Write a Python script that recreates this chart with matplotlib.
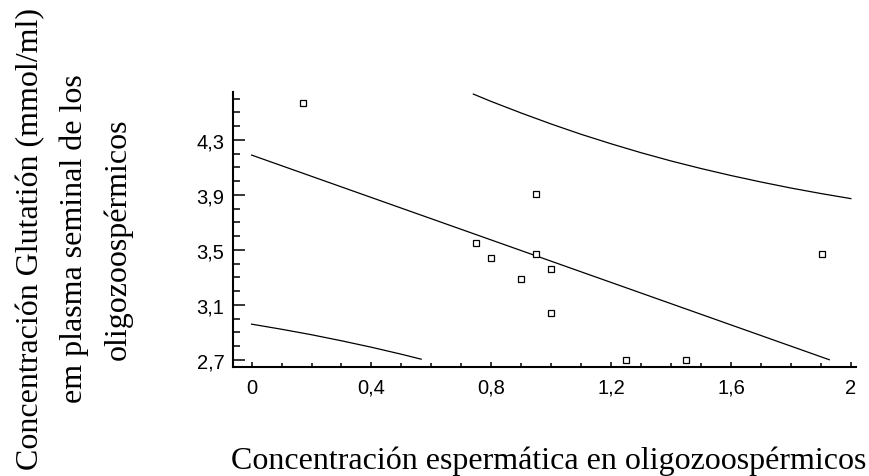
import numpy as np
import matplotlib
matplotlib.use('Agg')
import matplotlib.pyplot as plt
from matplotlib.ticker import FixedLocator

# observed values (sperm concentration vs glutathione)
conc_x = [0.17, 0.75, 0.80, 0.95, 0.95, 1.00, 0.90, 1.00, 1.25, 1.45, 1.905]
glut_y = [4.57, 3.55, 3.44, 3.91, 3.47, 3.36, 3.29, 3.04, 2.70, 2.70, 3.47]

# fitted line, read at its two ends
fit_x = [0.0, 1.928]
fit_y = [4.19, 2.70]

# upper and lower prediction limits
upper_x = [0.74, 0.8, 0.9, 1.0, 1.1, 1.2, 1.3, 1.4, 1.5, 1.6, 1.7, 1.8, 1.9, 2.0]
upper_y = [4.634, 4.580, 4.496, 4.416, 4.341, 4.272, 4.207, 4.147, 4.092, 4.041,
           3.994, 3.950, 3.910, 3.873]
lower_x = [0.0, 0.1, 0.2, 0.3, 0.4, 0.5, 0.566]
lower_y = [2.959, 2.922, 2.882, 2.838, 2.791, 2.740, 2.704]

x_ticks = [0, 0.4, 0.8, 1.2, 1.6, 2.0]
x_labels = ['0', '0,4', '0,8', '1,2', '1,6', '2']
y_ticks = [2.7, 3.1, 3.5, 3.9, 4.3]
y_labels = ['2,7', '3,1', '3,5', '3,9', '4,3']

fig = plt.figure(figsize=(8.69, 4.77), dpi=100)
ax = fig.add_axes([0.2678, 0.2279, 0.7172, 0.5765])

ax.plot(fit_x, fit_y, color='black', lw=0.9)
ax.plot(upper_x, upper_y, color='black', lw=0.9)
ax.plot(lower_x, lower_y, color='black', lw=0.9)
ax.plot(conc_x, glut_y, ls='none', marker='s', ms=3.8, mfc='white',
        mec='black', mew=0.9, clip_on=False, zorder=3)

ax.set_xlim(-0.063, 2.017)
ax.set_ylim(2.645, 4.647)

ax.spines['top'].set_visible(False)
ax.spines['right'].set_visible(False)
ax.spines['left'].set_linewidth(1.5)
ax.spines['bottom'].set_linewidth(1.5)

ax.xaxis.set_major_locator(FixedLocator(x_ticks))
ax.xaxis.set_minor_locator(FixedLocator(np.arange(0, 2.01, 0.1)))
ax.yaxis.set_major_locator(FixedLocator(y_ticks))
ax.yaxis.set_minor_locator(FixedLocator(np.arange(2.7, 4.65, 0.1)))
ax.set_xticklabels(x_labels, fontfamily='Liberation Sans', fontsize=14.5)
ax.set_yticklabels(y_labels, fontfamily='Liberation Sans', fontsize=14.5)

ax.tick_params(axis='y', which='major', direction='in', length=8.6, width=1.1, pad=6)
ax.tick_params(axis='y', which='minor', direction='in', length=5, width=1.1)
ax.tick_params(axis='x', which='major', direction='in', length=3.8, width=1.1, pad=7.5)
ax.tick_params(axis='x', which='minor', direction='in', length=2.8, width=1.1)

fig.text(0.6316, 1 - 469.5 / 477, 'Concentración espermática en oligozoospérmicos',
         fontfamily='Liberation Serif', fontsize=23, ha='center', va='baseline')

ylab = ['Concentración Glutatión (mmol/ml)', 'em plasma seminal de los', 'oligozoospérmicos']
for line, bx in zip(ylab, [38, 82, 126]):
    fig.text(bx / 869, 0.499, line, fontfamily='Liberation Serif', fontsize=23,
             rotation=90, rotation_mode='anchor', ha='center', va='baseline')

fig.savefig('out.png', dpi=100)
